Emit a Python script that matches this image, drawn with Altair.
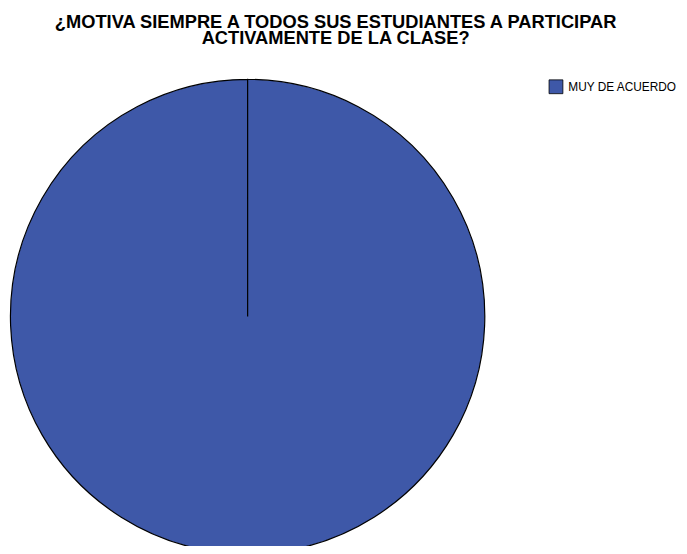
import altair as alt
import pandas as pd

categories = ["MUY DE ACUERDO"]
values = [100]
colors = ["#3E58A8"]

df = pd.DataFrame({"respuesta": categories, "valor": values})

FONT = "Liberation Sans"

pie = alt.Chart(df).mark_arc(
    stroke="black", strokeWidth=1.2, outerRadius=240
).encode(
    theta=alt.Theta("valor:Q", stack=True, scale=alt.Scale(range=[0, 6.2830])),
    color=alt.Color(
        "respuesta:N",
        scale=alt.Scale(domain=categories, range=colors),
        legend=alt.Legend(
            title=None, orient="none", legendX=547, legendY=28,
            symbolType="square", symbolSize=196, symbolStrokeColor="black",
            symbolStrokeWidth=0.8, symbolOpacity=1,
            labelFont=FONT, labelFontSize=12, labelColor="black", labelOffset=5,
        ),
    ),
    x=alt.value(242.5),
    y=alt.value(268),
)

chart = pie.properties(
    width=679, height=497,
    autosize=alt.AutoSizeParams(type="none"),
    padding={"top": 41, "left": 0, "right": 0, "bottom": 0},
    title=alt.TitleParams(
        ["¿MOTIVA SIEMPRE A TODOS SUS ESTUDIANTES A PARTICIPAR",
         "ACTIVAMENTE DE LA CLASE?"],
        font=FONT, fontSize=18.5, fontWeight="bold", color="black",
        anchor="middle", dx=-8, lineHeight=16, offset=4,
    ),
).configure_view(stroke=None)

chart.save("out.html", embed_options={"renderer": "svg", "actions": False})
